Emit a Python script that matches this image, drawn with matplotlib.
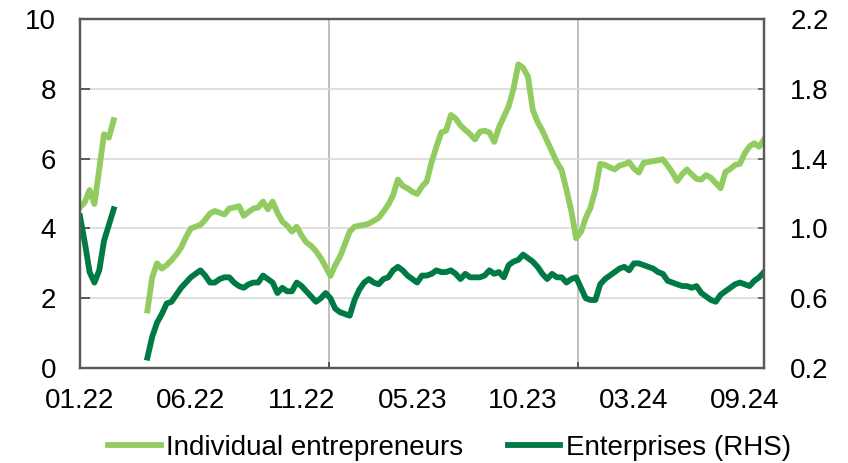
## Weekly registrations: individual entrepreneurs (LHS) vs enterprises (RHS)
import numpy as np
import matplotlib.pyplot as plt

plt.rcParams['font.family'] = ['Liberation Sans', 'DejaVu Sans']

nan = np.nan

# individual entrepreneurs, left axis (weekly, gap in Mar-Apr 2022)
individual = [
    4.6, 4.75, 5.1, 4.7, 5.7, 6.7, 6.6, 7.1,
    nan, nan, nan, nan, nan, nan,
    1.65, 2.6, 3.0, 2.85, 2.95, 3.09, 3.25, 3.45, 3.75, 4.0,
    4.05, 4.1, 4.25, 4.43, 4.5, 4.45, 4.4, 4.57, 4.6, 4.64,
    4.36, 4.47, 4.57, 4.6, 4.77, 4.55, 4.77, 4.45, 4.2, 4.08,
    3.91, 4.05, 3.8, 3.6, 3.5, 3.35, 3.15, 2.9, 2.64, 2.95,
    3.2, 3.55, 3.91, 4.05, 4.08, 4.1, 4.14, 4.22, 4.3, 4.48,
    4.68, 4.95, 5.4, 5.22, 5.15, 5.05, 4.99, 5.2, 5.35, 5.9,
    6.34, 6.75, 6.8, 7.25, 7.15, 6.95, 6.82, 6.7, 6.55, 6.77,
    6.8, 6.75, 6.48, 6.9, 7.2, 7.5, 8.0, 8.7, 8.6, 8.35,
    7.4, 7.05, 6.8, 6.5, 6.2, 5.9, 5.67, 5.1, 4.5, 3.72,
    3.9, 4.3, 4.6, 5.1, 5.85, 5.82, 5.75, 5.69, 5.8, 5.84,
    5.9, 5.72, 5.6, 5.88, 5.9, 5.93, 5.95, 5.98, 5.8, 5.6,
    5.36, 5.55, 5.69, 5.55, 5.42, 5.4, 5.53, 5.45, 5.3, 5.15,
    5.62, 5.7, 5.82, 5.85, 6.15, 6.35, 6.44, 6.34, 6.55,
]

# enterprises, right axis
enterprises = [
    1.07, 0.92, 0.75, 0.69, 0.76, 0.93, 1.02, 1.11,
    nan, nan, nan, nan, nan, nan,
    0.26, 0.38, 0.46, 0.51, 0.57, 0.58, 0.62, 0.66, 0.69, 0.72,
    0.74, 0.76, 0.73, 0.69, 0.69, 0.71, 0.72, 0.72, 0.69, 0.67,
    0.66, 0.68, 0.69, 0.69, 0.73, 0.71, 0.69, 0.63, 0.66, 0.64,
    0.64, 0.69, 0.67, 0.64, 0.61, 0.58, 0.6, 0.63, 0.6, 0.54,
    0.52, 0.51, 0.50, 0.59, 0.65, 0.69, 0.71, 0.69, 0.68, 0.71,
    0.72, 0.76, 0.78, 0.76, 0.73, 0.71, 0.69, 0.73, 0.73, 0.74,
    0.76, 0.75, 0.75, 0.76, 0.74, 0.71, 0.74, 0.72, 0.72, 0.72,
    0.73, 0.76, 0.74, 0.75, 0.72, 0.79, 0.81, 0.82, 0.85, 0.83,
    0.81, 0.78, 0.74, 0.71, 0.74, 0.72, 0.72, 0.69, 0.71, 0.72,
    0.66, 0.6, 0.59, 0.59, 0.68, 0.71, 0.73, 0.75, 0.77, 0.78,
    0.76, 0.80, 0.80, 0.79, 0.78, 0.77, 0.75, 0.74, 0.70, 0.69,
    0.68, 0.67, 0.67, 0.66, 0.67, 0.63, 0.61, 0.59, 0.58, 0.62,
    0.64, 0.66, 0.68, 0.69, 0.68, 0.67, 0.70, 0.72, 0.75,
]

tick_labels = ['01.22', '06.22', '11.22', '05.23', '10.23', '03.24', '09.24']
label_every = 23
year_breaks = [51.75, 103.3]   # week position of the new year

light_green = '#92CC61'
dark_green = '#007A45'
spine_col = '#595959'

weeks = np.arange(len(individual))

fig = plt.figure(figsize=(8.48, 4.63), dpi=100)
ax = fig.add_axes([0.0943, 0.205, 0.8066, 0.754])
ax2 = ax.twinx()

ax.plot(weeks, individual, color=light_green, lw=4.2, solid_joinstyle='round',
        label='Individual entrepreneurs')
ax2.plot(weeks, enterprises, color=dark_green, lw=4.2, solid_joinstyle='round',
         label='Enterprises (RHS)')

ax.set_xlim(0, len(weeks) - 1)
ax.set_ylim(0, 10)
ax2.set_ylim(0.2, 2.2)
ax.set_yticks(range(0, 11, 2))
ax2.set_yticks([0.2, 0.6, 1.0, 1.4, 1.8, 2.2])
ax2.set_yticklabels([f'{v:.1f}' for v in [0.2, 0.6, 1.0, 1.4, 1.8, 2.2]])

ax.set_xticks(np.arange(len(tick_labels)) * label_every)
ax.set_xticklabels(tick_labels)
ax.set_xticks(year_breaks, minor=True)

ax.grid(axis='y', color='#D9D9D9', lw=1.2)
ax.set_axisbelow(True)
for xb in year_breaks:
    ax.axvline(xb, color='#BFBFBF', lw=1.4, zorder=0)

for a in (ax, ax2):
    for s in a.spines.values():
        s.set_color(spine_col)
        s.set_linewidth(1.6)

ax.tick_params(axis='y', direction='in', length=7, width=1.4, color=spine_col,
               labelsize=20, pad=17)
ax2.tick_params(axis='y', direction='in', length=4, width=1.2, color=spine_col,
                labelsize=20, pad=19)
ax.tick_params(axis='x', which='major', length=0, labelsize=20, pad=14)
ax.tick_params(axis='x', which='minor', direction='in', length=4, width=1.4,
               color=spine_col)

h1, l1 = ax.get_legend_handles_labels()
h2, l2 = ax2.get_legend_handles_labels()
fig.legend(h1 + h2, l1 + l2, loc='center', bbox_to_anchor=(0.53, 0.033), ncol=2,
           frameon=False, fontsize=20, handlelength=1.9, handletextpad=0.2,
           columnspacing=1.6, borderaxespad=0)

fig.savefig('out.png', dpi=100)
